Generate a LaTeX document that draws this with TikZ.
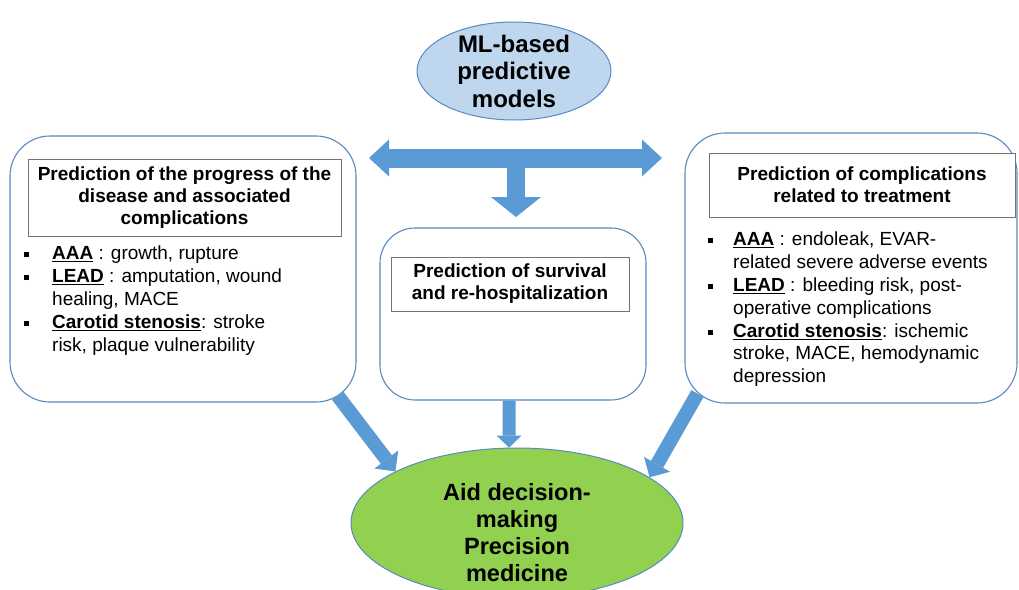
\documentclass[tikz,border=0pt]{standalone}
\usepackage{fontspec}
\setmainfont{Liberation Sans}
\usetikzlibrary{shapes.geometric,arrows.meta}

\definecolor{arrowblue}{RGB}{91,155,213}
\definecolor{lineblue}{RGB}{88,138,192}
\definecolor{paleblue}{RGB}{190,215,238}
\definecolor{leafgreen}{RGB}{146,208,80}

\newcommand{\hdfont}{\fontsize{19}{22}\selectfont\bfseries}
\newcommand{\txtfont}{\fontsize{19}{22.8}\selectfont}
\newcommand{\ovalfont}{\fontsize{24}{27.5}\selectfont\bfseries}
\newcommand{\sqitem}[1]{\makebox[#1][l]{\rule[2.5pt]{5pt}{5pt}}}
\newcommand{\ulb}[1]{\underline{\textbf{#1}}}

\tikzset{
    panel/.style = {draw=lineblue, line width=1.1pt, fill=white, rounded corners=40pt},
    heading/.style = {draw=black!55, line width=0.8pt, fill=white, align=center, inner sep=0pt, font=\hdfont},
    bullets/.style = {align=left, inner sep=0pt, font=\txtfont},
    oval/.style = {ellipse, draw=lineblue, line width=1pt, inner sep=0pt},
    fat/.style = {arrowblue, line width=#1},
}

\begin{document}
\begin{tikzpicture}[x=1pt, y=-1pt]

    \clip (0,0) rectangle (1019,589);
    \fill[white] (0,0) rectangle (1019,589);

    % Top oval
    \node[oval, fill=paleblue, minimum width=194pt, minimum height=98pt] (ml) at (514,71) {};
    \node[align=center, font=\ovalfont] (mlText) at (ml) {ML-based\\predictive\\models};

    % Panels
    \node[panel, minimum width=346pt, minimum height=266pt] (left) at (183,269) {};
    \node[panel, minimum width=266pt, minimum height=172pt, rounded corners=35pt] (mid) at (513,314) {};
    \node[panel, minimum width=332pt, minimum height=270pt] (right) at (851,268) {};

    % Panel headings
    \node[heading, minimum width=313pt, minimum height=77pt] (leftHead) at (184.5,197.5)
        {Prediction of the progress of the\\disease and associated\\complications};
    \node[heading, minimum width=238pt, minimum height=54pt] (midHead) at (510,284)
        {Prediction of survival\\and re-hospitalization};
    \node[heading, minimum width=306pt, minimum height=64pt] (rightHead) at (862,185)
        {Prediction of complications\\related to treatment};

    % Bullet lists
    \node[bullets, anchor=north west] (leftList) at (24,246) {%
        \sqitem{28pt}\ulb{AAA} : growth, rupture\\
        \sqitem{28pt}\ulb{LEAD} : amputation, wound\\
        \hspace*{28pt}healing, MACE\\
        \sqitem{28pt}\ulb{Carotid stenosis}: stroke\\
        \hspace*{28pt}risk, plaque vulnerability};
    \node[bullets, anchor=north west] (rightList) at (708,232) {%
        \sqitem{25pt}\ulb{AAA} : endoleak, EVAR-\\
        \hspace*{25pt}related severe adverse events\\
        \sqitem{25pt}\ulb{LEAD} : bleeding risk, post-\\
        \hspace*{25pt}operative complications\\
        \sqitem{25pt}\ulb{Carotid stenosis}: ischemic\\
        \hspace*{25pt}stroke, MACE, hemodynamic\\
        \hspace*{25pt}depression};

    % Bottom oval
    \node[oval, fill=leafgreen, minimum width=332pt, minimum height=150pt] (aid) at (517,523) {};
    \node[align=center, font=\fontsize{23.5}{27}\selectfont\bfseries] (aidText) at (517,533)
        {Aid decision-\\making\\Precision\\medicine};

    % T-shaped arrow under the top oval
    \coordinate (tipL) at (369,158);
    \coordinate (tipR) at (662,158);
    \coordinate (fork) at (516,158);
    \coordinate (tipD) at (516,217);
    \draw[fat=19pt, {Triangle[width=37pt,length=20pt,line width=0pt]}-{Triangle[width=37pt,length=20pt,line width=0pt]}] (tipL) -- (tipR);
    \draw[fat=18pt, -{Triangle[width=50pt,length=20pt,line width=0pt]}] (fork) -- (tipD);

    % Arrows into the bottom oval
    \coordinate (tailL) at ([xshift=-19pt,yshift=7pt]left.south east);
    \coordinate (tailR) at ([xshift=13pt,yshift=10pt]right.south west);
    \draw[fat=14pt, -{Triangle[width=30pt,length=15pt,line width=0pt]}] (tailL) -- (aid.157);
    \draw[fat=13pt, -{Triangle[width=25pt,length=12pt,line width=0pt]}] ([xshift=-4pt]mid.south) -- (aid.96);
    \draw[fat=14pt, -{Triangle[width=30pt,length=15pt,line width=0pt]}] (tailR) -- (aid.19);

\end{tikzpicture}
\end{document}
